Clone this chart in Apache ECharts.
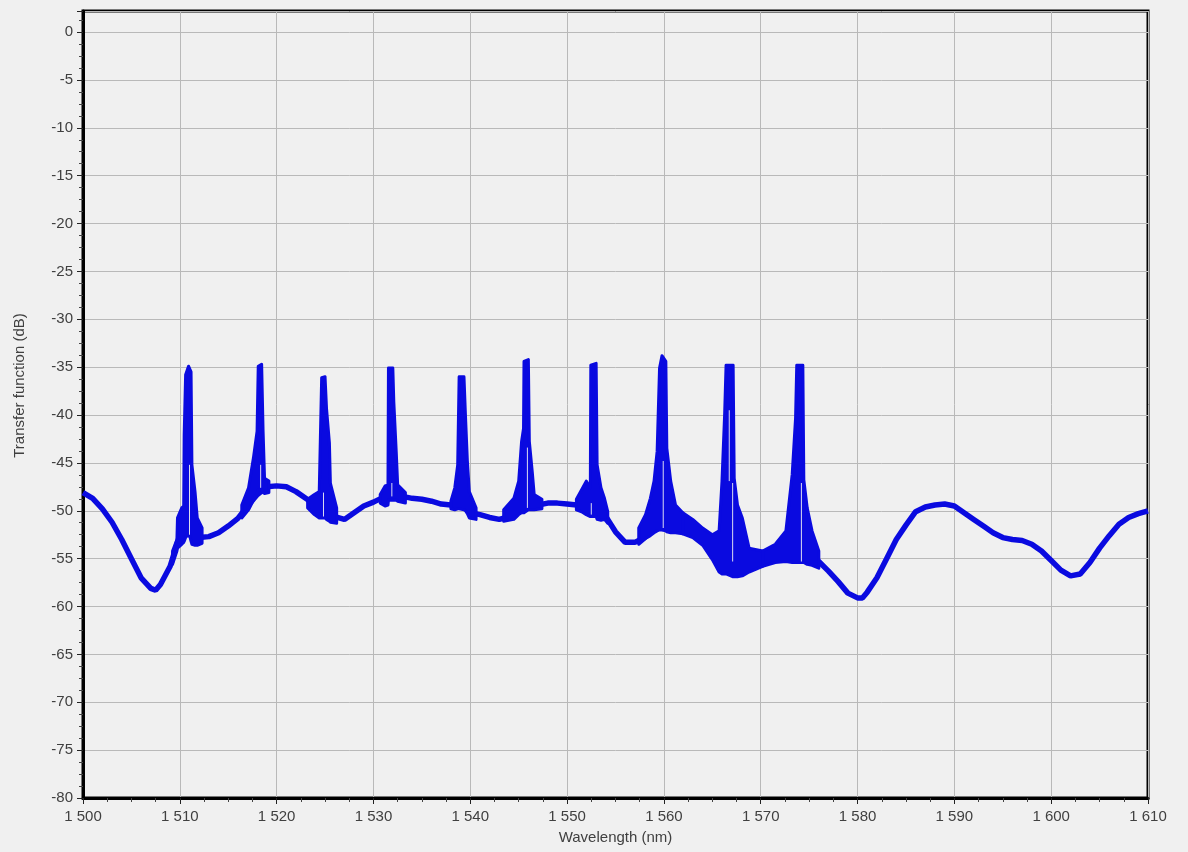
<!DOCTYPE html>
<html>
<head>
<meta charset="utf-8">
<script src="https://cdn.jsdelivr.net/npm/echarts@6/dist/echarts.min.js"></script>
<style>
html,body{margin:0;padding:0;background:#f0f0f0;}
#chart{width:1188px;height:852px;}
</style>
</head>
<body>
<div id="chart"></div>
<script>
// Baseline trace of the transfer function (wavelength nm, dB)
const baseLam = [1500,1501,1502,1503,1504,1505,1506,1507,1507.5,1508,1509,1510,1511,1512,1513,1514,1515,1516,1517,1518,1519,1520,
  1521,1522,1523,1524,1525,1526,1527,1528,1529,1530,1531,1532,1533,1534,1535,1536,1537,1538,1539,1540,
  1541,1542,1543,1544,1545,1546,1547,1548,1549,1550,1551,1552,1553,1554,1555,1556,1557,1558,1559,1560,
  1561,1562,1563,1564,1565,1566,1567,1568,1569,1570,1571,1572,1573,1574,1575,1576,1577,1578,1579,1580,1580.5,
  1581,1582,1583,1584,1585,1586,1587,1588,1589,1590,1591,1592,1593,1594,1595,1596,1597,1598,1599,1600,
  1601,1602,1603,1604,1605,1606,1607,1608,1609,1610];
const baseDb = [-48.1,-48.7,-49.8,-51.2,-53.0,-55.0,-57.0,-58.1,-58.3,-57.7,-55.8,-52.5,-52.5,-52.8,-52.7,-52.3,-51.6,-50.8,-49.5,-48.3,-47.5,-47.4,
  -47.5,-48.0,-48.7,-49.4,-50.0,-50.6,-50.9,-50.2,-49.5,-49.1,-48.6,-48.3,-48.5,-48.7,-48.8,-49.0,-49.3,-49.4,-49.2,-50.2,
  -50.4,-50.7,-50.9,-50.6,-49.8,-49.3,-49.4,-49.2,-49.2,-49.3,-49.4,-49.6,-49.9,-50.6,-52.2,-53.3,-53.3,-52.8,-52.0,-51.6,
  -51.3,-51.5,-51.8,-52.6,-53.7,-55.0,-55.3,-55.6,-55.0,-54.9,-54.7,-54.4,-54.3,-54.5,-54.9,-55.3,-56.3,-57.4,-58.6,-59.1,-59.1,
  -58.5,-57.0,-55.0,-53.0,-51.5,-50.1,-49.6,-49.4,-49.3,-49.5,-50.2,-50.9,-51.6,-52.3,-52.8,-53.0,-53.1,-53.5,-54.2,-55.2,
  -56.2,-56.8,-56.6,-55.4,-53.9,-52.6,-51.4,-50.7,-50.3,-50.0];

// Ripple envelopes around each resonance: [wavelength, upper dB, lower dB]
const band1511 = [[1509.25,-54.2,-55.6],[1509.7,-53.0,-54.2],[1509.76,-50.75,-53.9],[1510.2,-49.7,-53.5],[1510.4,-49.5,-53.3],[1510.45,-42.1,-53.2],[1510.6,-35.8,-52.8],
  [1510.9,-34.9,-52.1],[1511.16,-35.5,-53.2],[1511.25,-45.2,-53.5],[1511.57,-48.0,-53.6],[1511.8,-50.75,-53.6],[1512.3,-51.8,-53.4]];
const band1518 = [[1516.4,-49.4,-50.75],[1517.1,-47.6,-49.9],[1517.6,-44.5,-48.9],[1517.98,-41.7,-48.2],[1518.1,-34.9,-47.8],
  [1518.45,-34.7,-47.8],[1518.6,-41.7,-48.1],[1518.75,-46.6,-48.2],[1519.2,-46.9,-48.1]];
const band1525 = [[1523.2,-48.8,-49.7],[1523.9,-48.3,-50.4],[1524.4,-48.0,-50.75],[1524.65,-36.1,-50.75],[1525.0,-36.0,-50.75],
  [1525.15,-39.3,-50.9],[1525.45,-42.9,-51.1],[1525.55,-47.1,-51.2],[1526.2,-49.7,-51.3]];
const band1532 = [[1530.7,-48.3,-49.2],[1531.2,-47.4,-49.5],[1531.5,-47.3,-49.4],[1531.55,-35.1,-48.9],[1532.0,-35.1,-48.9],
  [1532.1,-38.6,-48.9],[1532.35,-43.8,-48.9],[1532.5,-47.3,-49.0],[1533.3,-48.1,-49.2]];
const band1539 = [[1538.0,-49.0,-49.8],[1538.4,-47.6,-49.9],[1538.7,-45.2,-49.8],[1538.85,-36.0,-49.8],[1539.35,-36.0,-49.9],
  [1539.5,-40.0,-50.0],[1539.7,-44.8,-50.3],[1539.9,-48.0,-50.75],[1540.6,-49.7,-50.9]];
const band1546 = [[1543.45,-49.9,-51.1],[1544.5,-48.7,-50.9],[1545.0,-46.9,-50.4],[1545.3,-42.75,-50.2],[1545.5,-41.4,-50.2],
  [1545.55,-34.4,-50.2],[1546.0,-34.2,-49.9],[1546.1,-42.75,-49.9],[1546.4,-45.9,-49.9],[1546.6,-48.3,-49.9],[1547.4,-48.8,-49.8]];
const band1553 = [[1550.96,-48.8,-49.9],[1551.5,-47.8,-50.1],[1551.98,-46.9,-50.4],[1552.4,-47.6,-50.6],[1552.45,-34.8,-50.6],
  [1553.0,-34.6,-50.6],[1553.1,-45.2,-50.9],[1553.5,-47.6,-51.0],[1553.86,-48.7,-50.9],[1554.2,-50.1,-51.3]];
const band1560 = [[1557.4,-51.8,-53.5],[1558.1,-50.4,-52.9],[1558.6,-48.7,-52.6],[1558.98,-46.9,-52.3],[1559.3,-43.8,-52.1],
  [1559.55,-35.1,-52.0],[1559.8,-33.8,-52.0],[1560.2,-34.4,-52.1],[1560.3,-43.45,-52.2],[1560.7,-46.9,-52.3],[1561.2,-49.4,-52.3],
  [1561.95,-50.2,-52.4]];
const band1567 = [[1561.95,-50.2,-52.4],[1562.98,-50.9,-52.8],[1564.0,-51.8,-53.6],[1565.0,-52.5,-55.1],[1565.7,-52.1,-56.4],
  [1566.0,-46.9,-56.6],[1566.27,-40.0,-56.6],[1566.42,-34.8,-56.6],[1567.15,-34.8,-56.9],[1567.26,-46.6,-56.9],[1567.6,-49.4,-56.9],
  [1568.1,-50.75,-56.8],[1568.8,-53.9,-56.4],[1570.2,-54.2,-55.8]];
const band1574 = [[1570.2,-54.2,-55.8],[1571.5,-53.5,-55.4],[1572.6,-52.1,-55.3],[1573.25,-46.2,-55.4],[1573.6,-40.3,-55.4],
  [1573.72,-34.8,-55.4],[1574.35,-34.8,-55.4],[1574.45,-46.75,-55.4],[1574.8,-49.7,-55.6],[1575.3,-52.1,-55.7],[1576.0,-54.2,-56.0]];

// Narrow notches (light gaps) inside the ripple bands
const gapLam = [1511.0,1518.35,1524.84,1531.9,1545.9,1552.5,1559.93,1566.75,1567.1,1574.2];
const gapTop = [-45.2,-45.2,-48.1,-47.1,-43.4,-49.2,-44.8,-39.5,-47.1,-47.1];
const gapBot = [-52.5,-47.6,-50.6,-48.5,-49.7,-50.4,-51.8,-46.9,-55.3,-55.3];

// Axis ticks
const xTicks = [1500,1510,1520,1530,1540,1550,1560,1570,1580,1590,1600,1610];
const yTicks = [0,-5,-10,-15,-20,-25,-30,-35,-40,-45,-50,-55,-60,-65,-70,-75,-80];

const BLUE = '#0a0ae0';
const FONT = '"Liberation Sans", Arial, sans-serif';
const bands = [band1511,band1518,band1525,band1532,band1539,band1546,band1553,band1560,band1567,band1574];

const chart = echarts.init(document.getElementById('chart'), null, {renderer:'canvas'});
chart.setOption({
  backgroundColor:'#f0f0f0',
  animation:false,
  grid:{left:83,right:40,top:11,bottom:54,show:true,borderColor:'#000',borderWidth:3,backgroundColor:'transparent'},
  xAxis:{
    type:'value', min:xTicks[0], max:xTicks[xTicks.length-1], interval:10,
    name:'Wavelength (nm)', nameLocation:'middle', nameGap:32,
    nameTextStyle:{fontFamily:FONT,fontSize:15,color:'#404040'},
    axisLine:{show:true,onZero:false,lineStyle:{color:'#000',width:3}},
    axisTick:{show:true,length:6,lineStyle:{color:'#222',width:1}},
    minorTick:{show:true,splitNumber:4,length:4,lineStyle:{color:'#444',width:1}},
    splitLine:{show:true,lineStyle:{color:'#b9b9b9',width:1}},
    axisLabel:{fontFamily:FONT,fontSize:15,color:'#404040',margin:11,
      formatter:v=>String(v).replace(/\B(?=(\d{3})+(?!\d))/g,' ')}
  },
  yAxis:{
    type:'value', min:yTicks[yTicks.length-1], max:2.2, interval:5,
    name:'Transfer function (dB)', nameLocation:'middle', nameGap:56,
    nameTextStyle:{fontFamily:FONT,fontSize:15,color:'#404040',padding:[0,0,0,38]},
    axisLine:{show:true,onZero:false,lineStyle:{color:'#000',width:3}},
    axisTick:{show:true,length:6,lineStyle:{color:'#222',width:1}},
    minorTick:{show:true,splitNumber:4,length:4,lineStyle:{color:'#444',width:1}},
    splitLine:{show:true,lineStyle:{color:'#b9b9b9',width:1}},
    axisLabel:{fontFamily:FONT,fontSize:15,color:'#404040',margin:10,
      formatter:v=>(yTicks.indexOf(v)>=0?String(v):'')}
  },
  series:[
    {
      type:'line', name:'trace', z:3, showSymbol:false, symbol:'none', clip:true,
      data: baseLam.map((l,i)=>[l, baseDb[i]]),
      lineStyle:{color:BLUE,width:5.5}
    },
    {
      type:'custom', name:'ripple', z:4, clip:true,
      data: bands.map((b,i)=>[b[0][0], b[0][1], i]),
      encode:{x:0,y:1},
      renderItem:function(params, api){
        const b = bands[params.dataIndex];
        const top = b.map(p=>api.coord([p[0],p[1]]));
        const bot = b.slice().reverse().map(p=>api.coord([p[0],p[2]]));
        return {type:'polygon', shape:{points:top.concat(bot)},
          style:{fill:BLUE, stroke:BLUE, lineWidth:3, lineJoin:'round'}};
      }
    },
    {
      type:'custom', name:'gaps', z:5, clip:true,
      data: gapLam.map((l,i)=>[l, gapTop[i], gapBot[i]]),
      encode:{x:0,y:[1,2]},
      renderItem:function(params, api){
        const a = api.coord([api.value(0), api.value(1)]);
        const b = api.coord([api.value(0), api.value(2)]);
        return {type:'line', shape:{x1:a[0],y1:a[1],x2:b[0],y2:b[1]},
          style:{stroke:'#dcdcf0', lineWidth:1}};
      }
    }
  ]
});
</script>
</body>
</html>
